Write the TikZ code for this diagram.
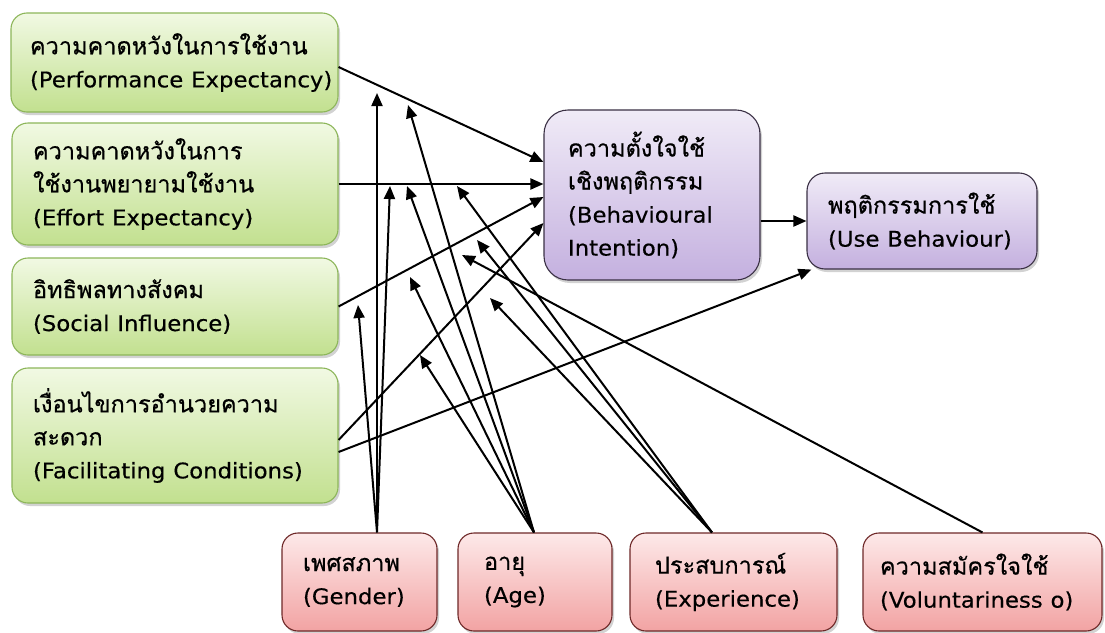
\documentclass[tikz,border=0pt]{standalone}
\usepackage{fontspec}
\setmainfont[Script=Thai, FakeBold=0.6]{Loma}
\newfontfamily\latf[FakeBold=0.4, FakeStretch=1.06]{DejaVu Sans}
\usetikzlibrary{arrows.meta,shadows}
\definecolor{gtop}{HTML}{F1F9E3}
\definecolor{gbot}{HTML}{C2E08F}
\definecolor{gdraw}{HTML}{8DB65A}
\definecolor{ptop}{HTML}{F0EBF7}
\definecolor{pbot}{HTML}{C4B0DF}
\definecolor{pdraw}{HTML}{3A3044}
\definecolor{rtop}{HTML}{FDE9E9}
\definecolor{rbot}{HTML}{F2A3A3}
\definecolor{rdraw}{HTML}{6E2828}
\newcommand{\en}[1]{\mbox{\latf\fontsize{21.5}{33}\selectfont #1}}
\tikzset{
  box/.style={rectangle, rounded corners=16pt, inner sep=0pt, align=left,
    font=\fontsize{23.5}{33}\selectfont, line width=1.1pt,
    drop shadow={shadow xshift=2pt, shadow yshift=-3pt, opacity=0.35}},
  greenbox/.style={box, draw=gdraw, top color=gtop, bottom color=gbot},
  purplebox/.style={box, rounded corners=24pt, draw=pdraw, top color=ptop, bottom color=pbot},
  pinkbox/.style={box, draw=rdraw, top color=rtop, bottom color=rbot},
  arr/.style={-{Triangle[length=13pt,width=11pt]}, line width=2pt, black}
}
\begin{document}
\begin{tikzpicture}[x=1pt,y=1pt]
\fill[white] (0,0) rectangle (1105,-632);
\useasboundingbox (0,0) rectangle (1105,-632);
% left boxes
\node[greenbox, minimum width=327pt, minimum height=99pt, text width=289pt] (PE) at (174.5,-62.5)
  {ความคาดหวังในการใช้งาน\\\en{(Performance Expectancy)}};
\node[greenbox, minimum width=326pt, minimum height=122pt, text width=284pt] (EE) at (175,-184)
  {ความคาดหวังในการ\\ใช้งานพยายามใช้งาน\\\en{(Effort Expectancy)}};
\node[greenbox, minimum width=326pt, minimum height=97pt, text width=284pt] (SI) at (175,-306.5)
  {อิทธิพลทางสังคม\\\en{(Social Influence)}};
\node[greenbox, minimum width=326pt, minimum height=135pt, text width=284pt] (FC) at (175,-435.5)
  {เงื่อนไขการอำนวยความ\\สะดวก\\\en{(Facilitating Conditions)}};
% right boxes
\node[purplebox, minimum width=216pt, minimum height=170pt, text width=168pt] (BI) at (652,-195)
  {ความตั้งใจใช้\\เชิงพฤติกรรม\\\en{(Behavioural}\\\en{Intention)}};
\node[purplebox, rounded corners=18pt, minimum width=230pt, minimum height=96pt, text width=188pt] (UB) at (922,-221)
  {พฤติกรรมการใช้\\\en{(Use Behaviour)}};
% bottom boxes
\node[pinkbox, minimum width=155pt, minimum height=98pt, text width=113pt] (G) at (359.5,-582)
  {เพศสภาพ\\\en{(Gender)}};
\node[pinkbox, minimum width=154pt, minimum height=98pt, text width=102pt] (A) at (535,-582)
  {อายุ\\\en{(Age)}};
\node[pinkbox, minimum width=207pt, minimum height=98pt, text width=157pt] (X) at (733.5,-582)
  {ประสบการณ์\\\en{(Experience)}};
\node[pinkbox, minimum width=239pt, minimum height=98pt, text width=205pt] (V) at (982.5,-582)
  {ความสมัครใจใช้\\\en{(Voluntariness o)}};
% moderator targets
\coordinate (g1) at (377,-93);
\coordinate (g2) at (390,-186);
\coordinate (g3) at (358,-305);
\coordinate (a1) at (408,-105);
\coordinate (a2) at (407,-186);
\coordinate (a3) at (410,-277);
\coordinate (a4) at (420,-355);
\coordinate (x1) at (457,-186);
\coordinate (x2) at (477,-240);
\coordinate (x3) at (490,-298);
\coordinate (v1) at (462,-255);
% main paths
\draw[arr] ([yshift=-4.5pt]PE.east) -- ([yshift=33pt]BI.west);
\draw[arr] (EE.east) -- (EE.east -| BI.west);
\draw[arr] (SI.east) -- ([yshift=-2pt]BI.west);
\draw[arr] ([yshift=-4.5pt]FC.east) -- ([yshift=-28pt]BI.west);
\draw[arr] ([yshift=-16.5pt]FC.east) -- ([xshift=5pt]UB.south west);
\draw[arr] (BI.east |- UB.west) -- (UB.west);
% moderators
\draw[arr] ([xshift=17.5pt]G.north) -- (g1);
\draw[arr] ([xshift=17.5pt]G.north) -- (g2);
\draw[arr] ([xshift=17.5pt]G.north) -- (g3);
\draw[arr] ([xshift=-1pt]A.north) -- (a1);
\draw[arr] ([xshift=-1pt]A.north) -- (a2);
\draw[arr] ([xshift=-1pt]A.north) -- (a3);
\draw[arr] ([xshift=-1pt]A.north) -- (a4);
\draw[arr] ([xshift=-21.5pt]X.north) -- (x1);
\draw[arr] ([xshift=-21.5pt]X.north) -- (x2);
\draw[arr] ([xshift=-21.5pt]X.north) -- (x3);
\draw[arr] (V.north) -- (v1);
\end{tikzpicture}
\end{document}
